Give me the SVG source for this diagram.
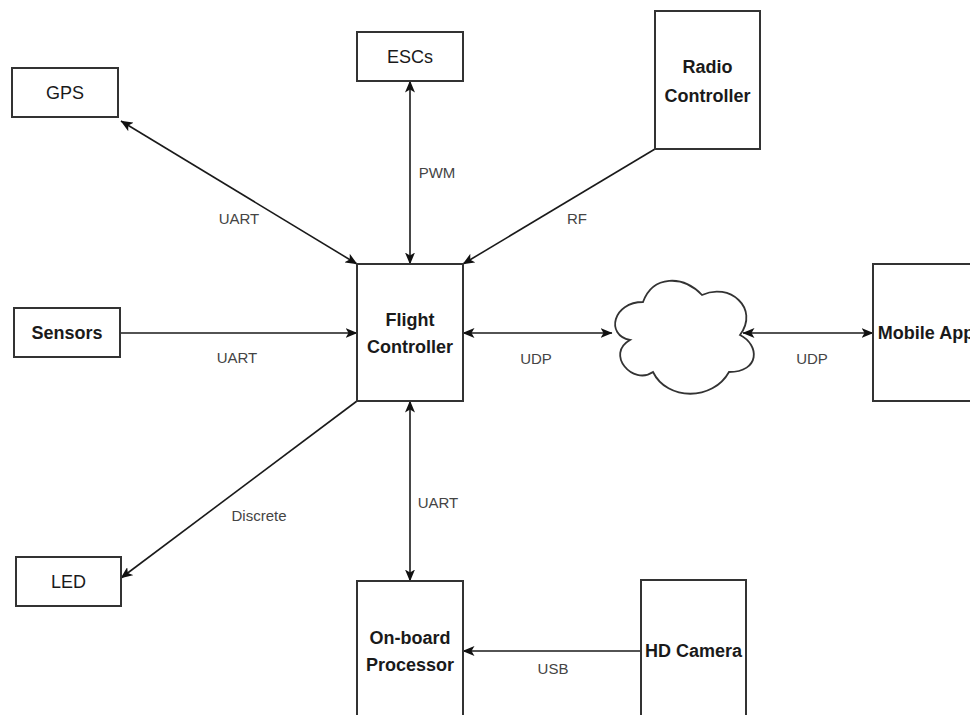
<svg xmlns="http://www.w3.org/2000/svg" width="970" height="715" viewBox="0 0 970 715">
<style>
.box{fill:#fff;stroke:#333;stroke-width:2}
.t{font-family:"Liberation Sans",Arial,sans-serif;font-size:18px;fill:#1a1a1a;text-anchor:middle;dominant-baseline:central}
.b{font-weight:bold}
.lbl{font-family:"Liberation Sans",Arial,sans-serif;font-size:15px;fill:#444;text-anchor:middle;dominant-baseline:central}
.c{fill:none;stroke:#1a1a1a;stroke-width:1.6}
</style>
<defs>
<marker id="ah" markerUnits="userSpaceOnUse" viewBox="0 0 12 10" refX="11.5" refY="5" markerWidth="12" markerHeight="10" orient="auto-start-reverse">
<path d="M0,0 L12,5 L0,10 L3,5 Z" fill="#111"/>
</marker>
</defs>
<rect width="970" height="715" fill="#fff"/>
<g id="connectors">
<line class="c" x1="121" y1="121" x2="357" y2="264" marker-start="url(#ah)" marker-end="url(#ah)"/>
<line class="c" x1="410" y1="81" x2="410" y2="264" marker-start="url(#ah)" marker-end="url(#ah)"/>
<line class="c" x1="655" y1="149" x2="463" y2="264" marker-end="url(#ah)"/>
<line class="c" x1="120" y1="333" x2="357" y2="333" marker-end="url(#ah)"/>
<line class="c" x1="463" y1="333" x2="612" y2="333" marker-start="url(#ah)" marker-end="url(#ah)"/>
<line class="c" x1="743" y1="333" x2="873" y2="333" marker-start="url(#ah)" marker-end="url(#ah)"/>
<line class="c" x1="357" y1="401" x2="121" y2="578" marker-end="url(#ah)"/>
<line class="c" x1="410" y1="401" x2="410" y2="581" marker-start="url(#ah)" marker-end="url(#ah)"/>
<line class="c" x1="641" y1="651" x2="463" y2="651" marker-end="url(#ah)"/>
<text class="lbl" x="239" y="218">UART</text>
<text class="lbl" x="437" y="172">PWM</text>
<text class="lbl" x="577" y="218">RF</text>
<text class="lbl" x="237" y="357">UART</text>
<text class="lbl" x="536" y="358">UDP</text>
<text class="lbl" x="812" y="358">UDP</text>
<text class="lbl" x="259" y="515">Discrete</text>
<text class="lbl" x="438" y="502">UART</text>
<text class="lbl" x="553" y="668">USB</text>
</g>
<g id="gps"><rect class="box" x="12" y="68" width="106" height="49"/><text class="t" x="65" y="93">GPS</text></g>
<g id="escs"><rect class="box" x="357" y="32" width="106" height="49"/><text class="t" x="410" y="57">ESCs</text></g>
<g id="radio"><rect class="box" x="655" y="11" width="105" height="138"/><text class="t b" x="707.5" y="67">Radio</text><text class="t b" x="707.5" y="96">Controller</text></g>
<g id="sensors"><rect class="box" x="14" y="308" width="106" height="49"/><text class="t b" x="67" y="333">Sensors</text></g>
<g id="fc"><rect class="box" x="357" y="264" width="106" height="137"/><text class="t b" x="410" y="320">Flight</text><text class="t b" x="410" y="347">Controller</text></g>
<g id="cloud"><path d="M643,302 C613,302 605,335 630,340 C605,354 633,386 653,372 C667,401 713,401 729,372 C760,372 760,345 740,335 C760,308 729,282 702,295 C683,275 653,275 643,302 Z" fill="#fff" stroke="#333" stroke-width="1.8"/></g>
<g id="mobile"><rect class="box" x="873" y="264" width="106" height="137"/><text class="t b" x="926" y="333">Mobile App</text></g>
<g id="led"><rect class="box" x="16" y="557" width="105" height="49"/><text class="t" x="68.5" y="582">LED</text></g>
<g id="processor"><rect class="box" x="357" y="581" width="106" height="137"/><text class="t b" x="410" y="638">On-board</text><text class="t b" x="410" y="665">Processor</text></g>
<g id="camera"><rect class="box" x="641" y="580" width="105" height="137"/><text class="t b" x="693.5" y="651">HD Camera</text></g>
</svg>
